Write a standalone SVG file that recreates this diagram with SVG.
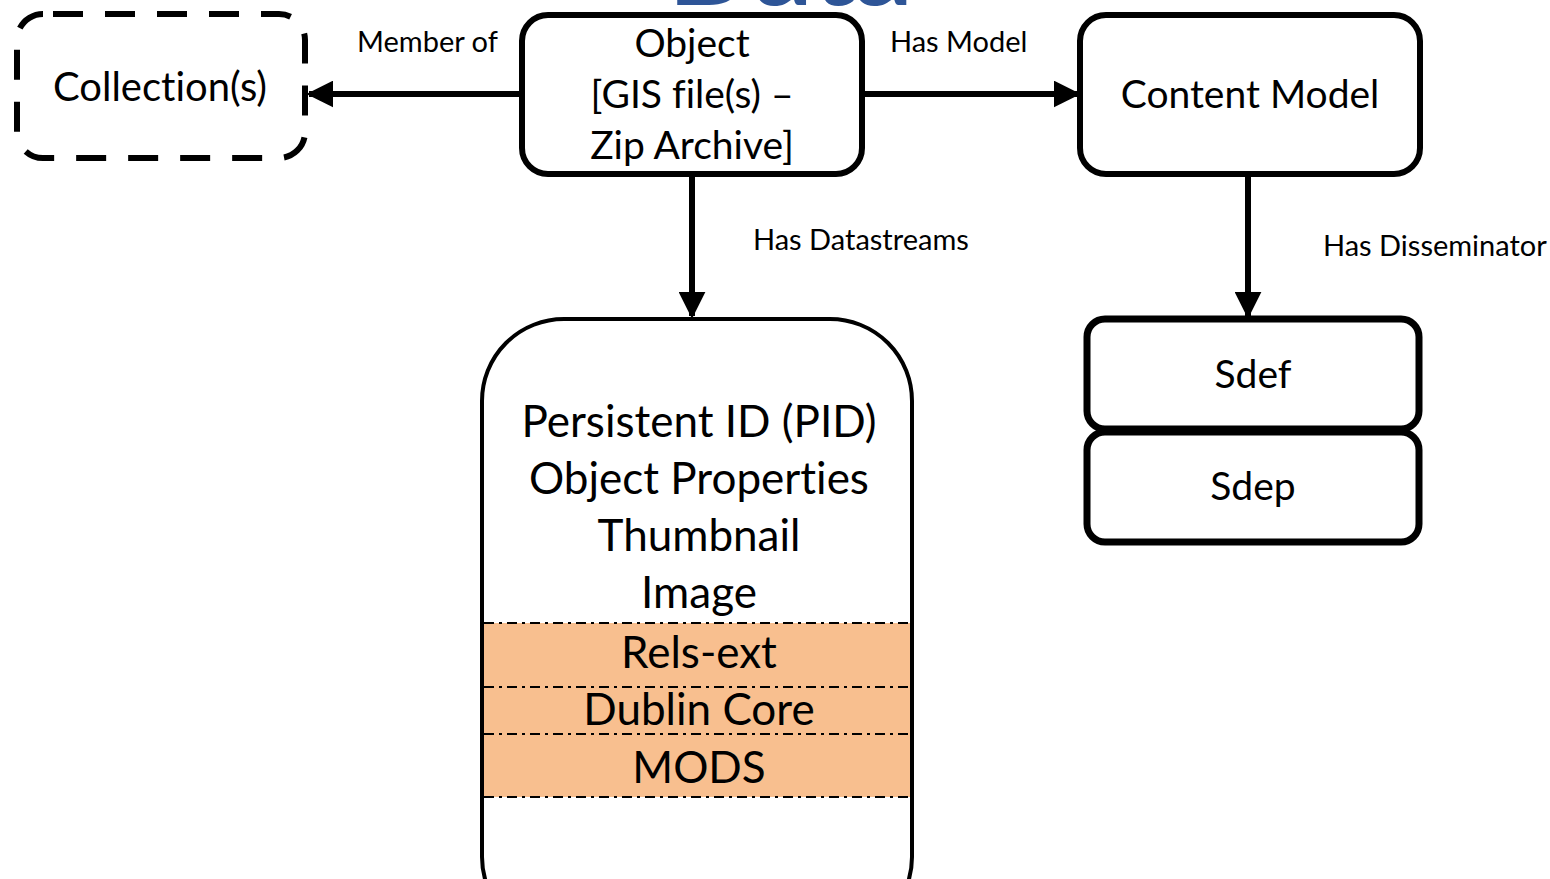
<svg xmlns="http://www.w3.org/2000/svg" width="1550" height="879" viewBox="0 0 1550 879">
<defs>
<style>
text{font-family:Lato,"Open Sans","Noto Sans",sans-serif;fill:#000;text-anchor:middle;font-variant-ligatures:none}
.box{fill:#fff;stroke:#000;stroke-width:6}
.lbl{font-size:29px;text-anchor:start}
.big{font-size:39px}
.ds{font-size:44px}
.conn{stroke:#000;stroke-width:6;fill:none}
.dd{stroke:#000;stroke-width:2;stroke-dasharray:10 5 3 5;fill:none}
</style>
<marker id="ah" viewBox="0 0 10 10" refX="9" refY="5" markerWidth="4.5" markerHeight="4.5" markerUnits="strokeWidth" orient="auto">
<path d="M0,0 L10,5 L0,10 z" fill="#000"/>
</marker>
</defs>
<rect width="1550" height="879" fill="#fff"/>
<text x="668" y="5" style="font-size:115px;font-weight:bold;fill:#2E5597;text-anchor:start">Data</text>

<g id="connectors">
<line class="conn" x1="522" y1="94" x2="309" y2="94" marker-end="url(#ah)"/>
<line class="conn" x1="862" y1="94" x2="1078" y2="94" marker-end="url(#ah)"/>
<line class="conn" x1="692" y1="175" x2="692" y2="316" marker-end="url(#ah)"/>
<line class="conn" x1="1248" y1="175" x2="1248" y2="316" marker-end="url(#ah)"/>
<text class="lbl" x="357" y="52">Member of</text>
<text class="lbl" x="890" y="52">Has Model</text>
<text class="lbl" x="753" y="250">Has Datastreams</text>
<text class="lbl" x="1323" y="256">Has Disseminator</text>
</g>

<g id="collection">
<rect x="17" y="14" width="288" height="144" rx="26" fill="#fff" stroke="#000" stroke-width="6" stroke-dasharray="30 22" stroke-dashoffset="-10"/>
<text x="160" y="101" style="font-size:40px">Collection(s)</text>
</g>

<g id="object">
<rect class="box" x="522" y="15" width="340" height="159" rx="26"/>
<text class="big" x="692" y="57">Object</text>
<text class="big" x="692" y="108">[GIS file(s) –</text>
<text class="big" x="692" y="159">Zip Archive]</text>
</g>

<g id="content-model">
<rect class="box" x="1080" y="15" width="340" height="159" rx="26"/>
<text class="big" x="1250" y="108">Content Model</text>
</g>

<g id="datastreams">
<rect x="482" y="319" width="430" height="620" rx="82" fill="#fff" stroke="#000" stroke-width="4"/>
<rect x="484" y="623" width="426" height="174" fill="#F8BF8F"/>
<line class="dd" x1="484" y1="623" x2="910" y2="623"/>
<line class="dd" x1="484" y1="687" x2="910" y2="687"/>
<line class="dd" x1="484" y1="734" x2="910" y2="734"/>
<line class="dd" x1="484" y1="797" x2="910" y2="797"/>
<text class="ds" x="699" y="437">Persistent ID (PID)</text>
<text class="ds" x="699" y="494">Object Properties</text>
<text class="ds" x="699" y="551">Thumbnail</text>
<text class="ds" x="699" y="608">Image</text>
<text class="ds" x="699" y="668">Rels-ext</text>
<text class="ds" x="699" y="725">Dublin Core</text>
<text class="ds" x="699" y="783">MODS</text>
</g>

<g id="sdef">
<rect x="1087" y="319" width="332" height="110" rx="18" fill="#fff" stroke="#000" stroke-width="7"/>
<text class="big" x="1253" y="388">Sdef</text>
</g>
<g id="sdep">
<rect x="1087" y="432" width="332" height="110" rx="18" fill="#fff" stroke="#000" stroke-width="7"/>
<text class="big" x="1253" y="500">Sdep</text>
</g>
</svg>
